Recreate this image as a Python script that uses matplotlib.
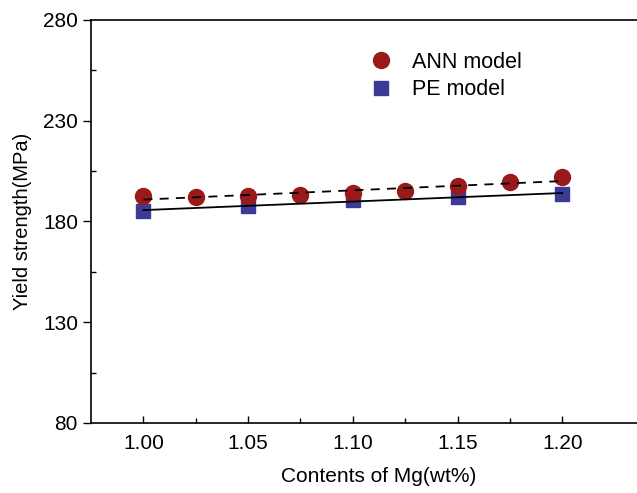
import matplotlib
matplotlib.use('Agg')
import matplotlib.pyplot as plt
import numpy as np
from matplotlib.ticker import FixedLocator

plt.rcParams['font.family'] = ['Liberation Sans', 'DejaVu Sans']

# ANN model values
ann_x = [1.00, 1.025, 1.05, 1.075, 1.10, 1.125, 1.15, 1.175, 1.20]
ann_y = [192.7, 192.3, 192.7, 193.2, 194.0, 195.1, 197.3, 199.3, 201.9]
# PE model values
pe_x = [1.00, 1.05, 1.10, 1.15, 1.20]
pe_y = [185.2, 187.7, 190.4, 192.3, 193.5]

fig = plt.figure(figsize=(6.37, 4.93), dpi=100)
ax = fig.add_axes([0.143, 0.142, 0.904, 0.818])

# linear fits
xf = np.array([1.00, 1.20])
pa = np.polyfit(ann_x, ann_y, 1)
pp = np.polyfit(pe_x, pe_y, 1)

ax.plot(ann_x, ann_y, 'o', color='#9a1a1a', ms=11.5, label='ANN model', zorder=3)
ax.plot(pe_x, pe_y, 's', color='#3b3a96', ms=10, label='PE model', zorder=2)
ax.plot(xf, np.polyval(pa, xf), '--', color='black', lw=1.3, dashes=(5, 4), zorder=4)
ax.plot(xf, np.polyval(pp, xf), '-', color='black', lw=1.3, zorder=4)

ax.set_xlim(0.975, 1.25)
ax.set_ylim(80, 280)
ax.set_xticks([1.00, 1.05, 1.10, 1.15, 1.20])
ax.set_xticklabels(['1.00', '1.05', '1.10', '1.15', '1.20'])
ax.set_yticks([80, 130, 180, 230, 280])
ax.xaxis.set_minor_locator(FixedLocator([1.025, 1.075, 1.125, 1.175]))
ax.yaxis.set_minor_locator(FixedLocator([105, 155, 205, 255]))
ax.tick_params(axis='x', which='major', direction='in', length=5, width=1, labelsize=15, pad=8)
ax.tick_params(axis='x', which='minor', direction='in', length=3.5, width=1)
ax.tick_params(axis='y', which='major', direction='out', length=6, width=1, labelsize=15)
ax.tick_params(axis='y', which='minor', direction='in', length=3.5, width=1)
for s in ax.spines.values():
    s.set_linewidth(1.2)

ax.set_xlabel('Contents of Mg(wt%)', fontsize=15, labelpad=10)
ax.set_ylabel('Yield strength(MPa)', fontsize=14.5, labelpad=8)

ax.legend(loc='upper left', bbox_to_anchor=(0.451, 0.942), frameon=False, fontsize=15.5,
          handletextpad=0.45, labelspacing=0.3, borderaxespad=0)

fig.savefig('out.png', dpi=100)
